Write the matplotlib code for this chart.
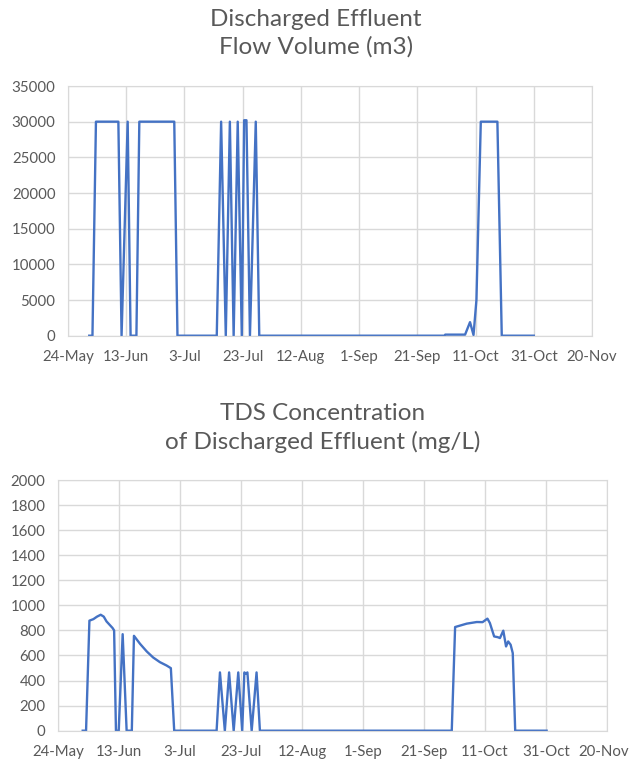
import numpy as np
import pandas as pd
import matplotlib
matplotlib.use("Agg")
import matplotlib.pyplot as plt
import matplotlib.transforms as mtransforms

# day offsets from 24-May and values
flow_days = [7.3, 8.4, 9.6, 17.3, 18.4, 20.5, 21.5, 23.5, 24.5, 36.5, 37.6,
             51.1, 52.6, 54.2, 55.6, 56.9, 58.3, 59.7, 60.5, 61.3, 62.5, 64.5, 65.7,
             129.3, 129.6, 136.4, 138.1, 139.3, 140.3, 141.8, 147.5, 149.0, 160.0]
flow_vals = [0, 0, 30000, 30000, 0, 30000, 0, 0, 30000, 30000, 0,
             0, 30000, 0, 30000, 0, 30000, 0, 30200, 30200, 0, 30000, 0,
             0, 150, 150, 1900, 100, 5000, 30000, 30000, 0, 0]

tds_days = [8.1, 9.2, 10.3, 11.6, 12.8, 14.0, 15.0, 15.9, 17.9, 18.4, 19.0,
            19.9, 21.2, 22.5, 24.2, 24.9, 26.9, 29.1, 31.2, 33.4, 35.6, 37.0, 38.1,
            52.0, 53.1, 54.7, 56.1, 57.6, 59.1, 60.4, 61.1, 61.6, 62.1, 63.5, 65.1, 66.2,
            129.1, 130.2, 134.0, 137.3, 139.2, 140.8, 141.6, 143.0, 144.2, 144.9,
            146.0, 146.9, 147.6, 148.4, 149.1, 149.9, 160.2]
tds_vals = [0, 0, 878, 890, 910, 925, 910, 872, 819, 800, 0,
            0, 770, 0, 0, 757, 693, 632, 584, 547, 520, 499, 0,
            0, 465, 0, 465, 0, 465, 0, 465, 455, 465, 0, 465, 0,
            0, 827, 854, 867, 866, 894, 859, 752, 746, 739,
            798, 672, 712, 686, 619, 0, 0]

start = pd.Timestamp("2020-05-24")
tick_dates = pd.date_range(start, periods=10, freq="20D")
tick_labels = ["24-May", "13-Jun", "3-Jul", "23-Jul", "12-Aug",
               "1-Sep", "21-Sep", "11-Oct", "31-Oct", "20-Nov"]

plt.rcParams["font.family"] = ["Lato", "DejaVu Sans"]
grey = "#595959"
grid = "#d9d9d9"
blue = "#4472C4"

fig = plt.figure(figsize=(6.31, 7.63), dpi=100)

def style(ax, yticks):
    ax.set_xlim(tick_dates[0], tick_dates[-1])
    ax.set_xticks(tick_dates)
    ax.set_xticklabels(tick_labels)
    ax.set_ylim(yticks[0], yticks[-1])
    ax.set_yticks(yticks)
    ax.grid(True, color=grid, linewidth=1)
    ax.set_axisbelow(True)
    for s in ax.spines.values():
        s.set_color(grid)
    ax.tick_params(length=0, labelsize=10.8, colors=grey)
    ax.tick_params(axis="x", pad=10)
    ax.tick_params(axis="y", pad=9)

def to_dates(days):
    return start + pd.to_timedelta(np.array(days), unit="D")

ax1 = fig.add_axes([68/631, 1-335.7/763, 524/631, (335.7-86)/763])
ax1.plot(to_dates(flow_days), flow_vals, color=blue, lw=1.7, solid_joinstyle="round")
style(ax1, list(range(0, 35001, 5000)))
fig.text(316/631, 1-19/763, "Discharged Effluent", ha="center", va="center", fontsize=17.5, color=grey)
fig.text(316/631, 1-47/763, "Flow Volume (m3)", ha="center", va="center", fontsize=17.5, color=grey)

ax2 = fig.add_axes([58/631, 1-730.7/763, 549/631, (730.7-480)/763])
ax2.plot(to_dates(tds_days), tds_vals, color=blue, lw=1.7, solid_joinstyle="round")
style(ax2, list(range(0, 2001, 200)))
# last label sits at the figure edge, nudge it in slightly
last = ax2.get_xticklabels()[-1]
last.set_transform(last.get_transform() + mtransforms.ScaledTranslation(-3/100, 0, fig.dpi_scale_trans))
fig.text(323/631, 1-413/763, "TDS Concentration", ha="center", va="center", fontsize=17.5, color=grey)
fig.text(323/631, 1-442/763, "of Discharged Effluent (mg/L)", ha="center", va="center", fontsize=17.5, color=grey)

fig.savefig("out.png", dpi=100)
